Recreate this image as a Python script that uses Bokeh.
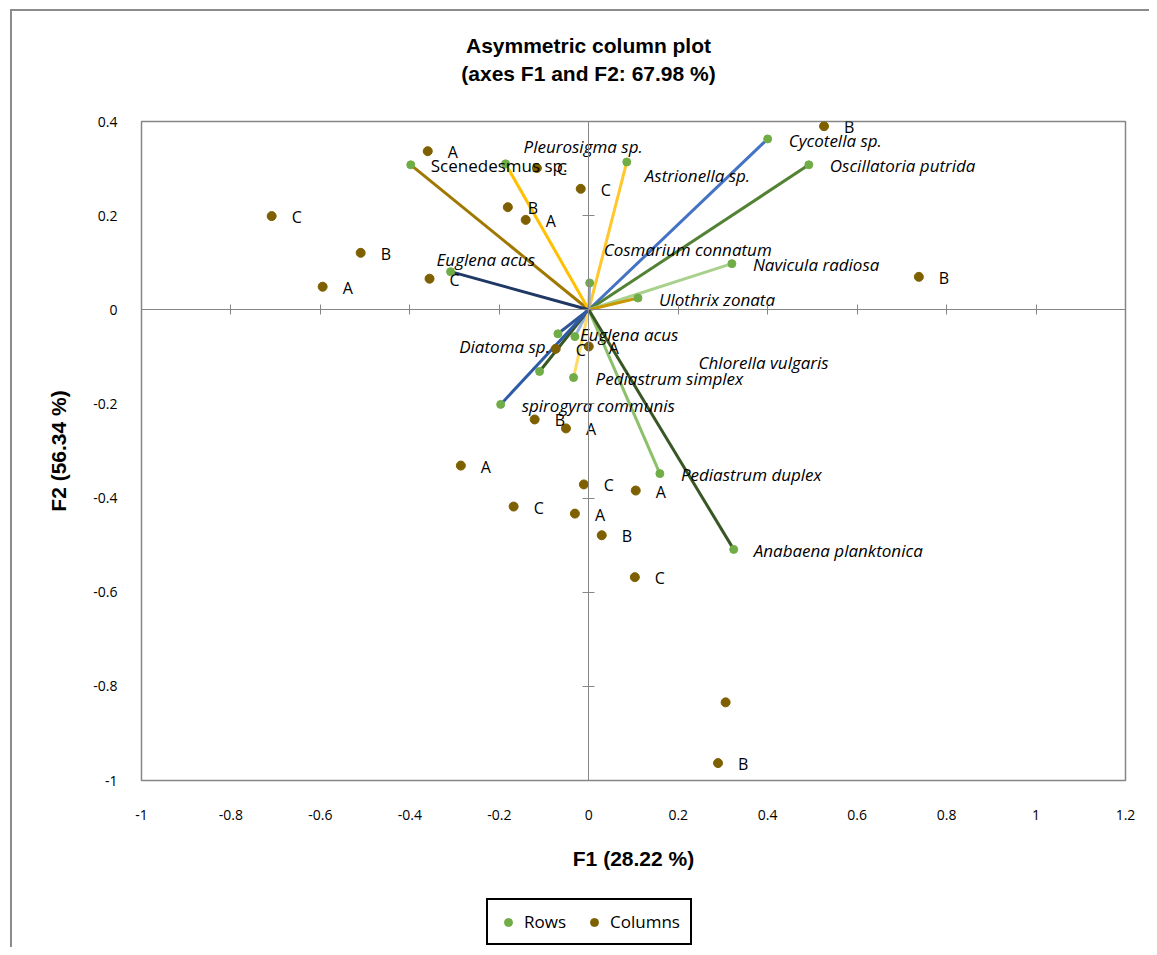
from bokeh.plotting import figure
from bokeh.layouts import column
from bokeh.models import (LinearAxis, FixedTicker, Legend, LegendItem,
                          ColumnDataSource, Label)
from bokeh.core.properties import value
from bokeh.embed import file_html
from bokeh.resources import INLINE

# ---------------- data ----------------
title_line1 = "Asymmetric column plot"
title_line2 = "(axes F1 and F2: 67.98 %)"
x_label = "F1 (28.22 %)"
y_label = "F2 (56.34 %)"

x_ticks = [-1, -0.8, -0.6, -0.4, -0.2, 0, 0.2, 0.4, 0.6, 0.8, 1, 1.2]
x_tick_labels = ["-1", "-0.8", "-0.6", "-0.4", "-0.2", "0", "0.2", "0.4", "0.6", "0.8", "1", "1.2"]
y_ticks = [-1, -0.8, -0.6, -0.4, -0.2, 0, 0.2, 0.4]
y_tick_labels = ["-1", "-0.8", "-0.6", "-0.4", "-0.2", "0", "0.2", "0.4"]

row_names = ["Scenedesmus sp.", "Pleurosigma sp.", "Astrionella sp.", "Cycotella  sp.",
             "Oscillatoria putrida", "Navicula radiosa", "Ulothrix zonata",
             "Cosmarium  connatum", "Euglena acus", "Euglena acus", "Diatoma sp.",
             "Chlorella  vulgaris", "Pediastrum simplex", "spirogyra communis",
             "Pediastrum duplex", "Anabaena  planktonica"]
row_f1 = [-0.398, -0.186, 0.085, 0.400, 0.492, 0.320, 0.110, 0.002, -0.309, -0.031,
          -0.069, -0.110, -0.034, -0.197, 0.159, 0.324]
row_f2 = [0.308, 0.310, 0.314, 0.363, 0.308, 0.098, 0.025, 0.057, 0.081, -0.057,
          -0.051, -0.131, -0.144, -0.201, -0.348, -0.509]

col_names = ["A", "C", "C", "B", "A", "C", "B", "A", "C", "B", "B", "C", "A", "B",
             "A", "A", "C", "A", "C", "A", "B", "C", "", "B"]
col_f1 = [-0.360, -0.116, -0.018, -0.181, -0.141, -0.709, -0.510, -0.595, -0.356,
          0.526, 0.738, -0.074, 0.000, -0.121, -0.051, -0.286, -0.011, 0.105,
          -0.168, -0.031, 0.029, 0.103, 0.306, 0.289]
col_f2 = [0.337, 0.301, 0.257, 0.218, 0.191, 0.199, 0.121, 0.049, 0.066, 0.390,
          0.070, -0.083, -0.078, -0.233, -0.252, -0.331, -0.371, -0.384, -0.418,
          -0.433, -0.479, -0.568, -0.834, -0.963]

legend_labels = ["Rows", "Columns"]

# ---------------- styles ----------------
row_line_colors = ["#A07800", "#FFC000", "#FFC72C", "#4472C4", "#548235", "#A9D18E",
                   "#C99700", "#8FAADC", "#1F3864", "#9DB3E0", "#2F5597", "#385723",
                   "#FFD966", "#2E5AA8", "#8CC06A", "#385723"]
row_label_dx = [20, 18, 18, 21, 21, 21, 21, 14, -14, 5, -8, 159, 22, 21, 21, 20]
row_label_dy = [1, -17, 14, 2, 1, 1, 1, -33, -12, -2, 13, -9, 1, 1, 1, 1]
row_label_align = ["left"] * 10 + ["right"] + ["left"] * 5
row_label_style = ["normal"] + ["italic"] * 15

GREEN = "#70AD47"
BROWN = "#7F6000"
GREY = "#868686"
FONT = "Open Sans"
BOLD_FONT = "Liberation Sans"
BORDER = "#8C8C8C"
W = 1149
FRAME_LEFT = 141

# ---------------- title strip ----------------
p_top = figure(width=W, height=106, x_range=(0, 1), y_range=(0, 1),
               output_backend="svg", toolbar_location=None,
               x_axis_location=None, y_axis_location=None,
               min_border=0, min_border_left=0, min_border_right=0,
               min_border_top=0, min_border_bottom=0)
p_top.grid.visible = False
p_top.outline_line_color = None
p_top.background_fill_color = None
p_top.border_fill_color = None
p_top.add_layout(Label(x=588 - FRAME_LEFT, y=61, x_units="screen", y_units="screen",
                       text=title_line1, text_align="center", text_baseline="middle",
                       text_font=BOLD_FONT, text_font_size="21px", text_font_style="bold",
                       text_color="#000000"))
p_top.add_layout(Label(x=588 - FRAME_LEFT, y=33, x_units="screen", y_units="screen",
                       text=title_line2, text_align="center", text_baseline="middle",
                       text_font=BOLD_FONT, text_font_size="21px", text_font_style="bold",
                       text_color="#000000"))

# ---------------- main plot ----------------
p = figure(width=W, height=774, x_range=(-1, 1.2), y_range=(-1, 0.4),
           output_backend="svg", toolbar_location=None,
           x_axis_location=None, y_axis_location=None,
           min_border_left=FRAME_LEFT, min_border_right=24,
           min_border_top=15, min_border_bottom=100)
p.grid.visible = False
p.outline_line_color = GREY
p.outline_line_width = 1.5
p.background_fill_color = "white"
p.border_fill_color = None

xaxis = LinearAxis(ticker=FixedTicker(ticks=x_ticks),
                   major_label_overrides={t: l for t, l in zip(x_ticks, x_tick_labels)},
                   axis_line_color=None, major_tick_line_color=None,
                   minor_tick_line_color=None, major_tick_in=0, major_tick_out=0,
                   major_label_standoff=29, axis_label=x_label,
                   axis_label_standoff=24,
                   major_label_text_font=FONT, major_label_text_font_size="14px",
                   major_label_text_color="#000000",
                   axis_label_text_font=BOLD_FONT, axis_label_text_font_size="21px",
                   axis_label_text_font_style="bold", axis_label_text_color="#000000")
p.add_layout(xaxis, "below")
yaxis = LinearAxis(ticker=FixedTicker(ticks=y_ticks),
                   major_label_overrides={t: l for t, l in zip(y_ticks, y_tick_labels)},
                   axis_line_color=None, major_tick_line_color=None,
                   minor_tick_line_color=None, major_tick_in=0, major_tick_out=0,
                   major_label_standoff=24, axis_label=y_label,
                   axis_label_standoff=20,
                   major_label_text_font=FONT, major_label_text_font_size="14px",
                   major_label_text_color="#000000",
                   axis_label_text_font=BOLD_FONT, axis_label_text_font_size="21px",
                   axis_label_text_font_style="bold", axis_label_text_color="#000000")
p.add_layout(yaxis, "left")

# crossing axes through origin (no labels)
x0axis = LinearAxis(fixed_location=0, ticker=FixedTicker(ticks=x_ticks),
                    major_label_overrides={t: "" for t in x_ticks},
                    axis_line_color=GREY, major_tick_line_color=GREY,
                    minor_tick_line_color=None, major_tick_in=5, major_tick_out=5)
p.add_layout(x0axis, "below")
y0axis = LinearAxis(fixed_location=0, ticker=FixedTicker(ticks=y_ticks),
                    major_label_overrides={t: "" for t in y_ticks},
                    axis_line_color=GREY, major_tick_line_color=GREY,
                    minor_tick_line_color=None, major_tick_in=6, major_tick_out=6)
p.add_layout(y0axis, "right")

rows = ColumnDataSource(dict(x0=[0] * len(row_f1), y0=[0] * len(row_f2),
                             x=row_f1, y=row_f2, name=row_names, color=row_line_colors,
                             dx=row_label_dx, dy=row_label_dy, align=row_label_align,
                             style=row_label_style))
cols = ColumnDataSource(dict(x=col_f1, y=col_f2, name=col_names))

p.segment(x0="x0", y0="y0", x1="x", y1="y", source=rows, line_color="color",
          line_width=3)
p.scatter("x", "y", source=rows, size=8, color=GREEN)
p.scatter("x", "y", source=cols, size=9, color=BROWN)

p.text("x", "y", text="name", source=rows, x_offset="dx", y_offset="dy",
       text_align="align", text_baseline="middle", text_font=value(FONT),
       text_font_size="17px", text_font_style="style", text_color="#000000")
p.text("x", "y", text="name", source=cols, x_offset=20, y_offset=1,
       text_align="left", text_baseline="middle", text_font=value(FONT),
       text_font_size="16px", text_color="#000000")

# ---------------- legend strip ----------------
p_bot = figure(width=W, height=67, x_range=(0, 1), y_range=(0, 1),
               output_backend="svg", toolbar_location=None,
               x_axis_location=None, y_axis_location=None,
               min_border=0, min_border_left=0, min_border_right=0,
               min_border_top=0, min_border_bottom=0)
p_bot.grid.visible = False
p_bot.outline_line_color = None
p_bot.background_fill_color = None
p_bot.border_fill_color = None
# hidden copies of the two series, only used for the legend swatches
lg_rows = p_bot.scatter("x", "y", source=rows, size=9, color=GREEN, visible=False)
lg_cols = p_bot.scatter("x", "y", source=cols, size=9, color=BROWN, visible=False)
legend = Legend(items=[LegendItem(label=legend_labels[0], renderers=[lg_rows]),
                       LegendItem(label=legend_labels[1], renderers=[lg_cols])],
                location=(486 - FRAME_LEFT, 2), orientation="horizontal",
                label_text_font=FONT, label_text_font_size="17px",
                label_text_color="#000000",
                border_line_color="#000000", border_line_width=2, border_line_alpha=1,
                padding=10, spacing=18, glyph_width=20, glyph_height=20,
                label_standoff=6,
                margin=0, background_fill_color="white", background_fill_alpha=1,
                inactive_fill_alpha=0)
p_bot.add_layout(legend, "center")

layout = column(p_top, p, p_bot, spacing=0)
layout.styles = {"background": (f"linear-gradient({BORDER},{BORDER}) 10px 9px / 2px 100% no-repeat, "
                                f"linear-gradient({BORDER},{BORDER}) 10px 9px / 100% 2px no-repeat, white")}

open("out.html", "w").write(file_html(layout, INLINE))
